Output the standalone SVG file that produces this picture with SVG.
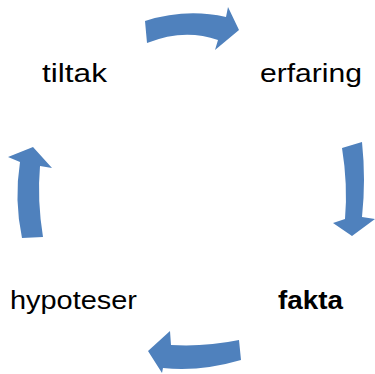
<svg xmlns="http://www.w3.org/2000/svg" width="375" height="374" viewBox="0 0 375 374">
<style>
.lbl{font-family:"Liberation Sans",Arial,sans-serif;font-size:26px;fill:#000}
.b{font-weight:bold}
.arr{fill:#4F81BD;stroke:none}
</style>
<rect width="375" height="374" fill="#fff"/>
<g id="connectors">
<path class="arr" d="M145,21 Q186,8 226,17 L228,7 L239,30 L215,50 L218,40 Q184,28 147,43 Z"/>
<path class="arr" d="M342,148 L362,142 Q366,180 362,217 L375,219 L352,236 L333,223 L345,219 Q348,185 342,148 Z"/>
<path class="arr" d="M239,340 L241,360 Q200,372 163,368 L162,373 L148,351 L170,331 L171,345 Q205,347 239,340 Z"/>
<path class="arr" d="M33,147 L52,168 L40,166 Q37,200 43,237 L22,238 Q14,200 20,162 L8,157 Z"/>
</g>
<g id="tiltak"><text class="lbl" x="42" y="82" textLength="65" lengthAdjust="spacingAndGlyphs">tiltak</text></g>
<g id="erfaring"><text class="lbl" x="260" y="82" textLength="102" lengthAdjust="spacingAndGlyphs">erfaring</text></g>
<g id="hypoteser"><text class="lbl" x="10" y="309" textLength="127" lengthAdjust="spacingAndGlyphs">hypoteser</text></g>
<g id="fakta"><text class="lbl b" x="278" y="309" textLength="65" lengthAdjust="spacingAndGlyphs">fakta</text></g>
</svg>
